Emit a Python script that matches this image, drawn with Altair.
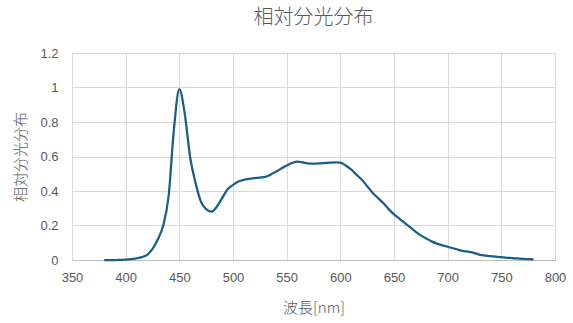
import altair as alt
import pandas as pd

wavelength = list(range(380, 785, 5))
intensity = [
    0.0, 0.0, 0.0, 0.001, 0.002, 0.005, 0.01, 0.017, 0.03, 0.065,
    0.12, 0.2, 0.37, 0.76, 0.99, 0.85, 0.6, 0.45, 0.34, 0.295,
    0.28, 0.31, 0.36, 0.41, 0.435, 0.455, 0.465, 0.47, 0.474, 0.478,
    0.482, 0.495, 0.512, 0.53, 0.548, 0.562, 0.57, 0.566, 0.56, 0.559,
    0.56, 0.562, 0.564, 0.566, 0.565, 0.548, 0.525, 0.495, 0.465, 0.428,
    0.39, 0.36, 0.33, 0.295, 0.265, 0.24, 0.215, 0.19, 0.165, 0.143,
    0.125, 0.108, 0.095, 0.085, 0.077, 0.068, 0.059, 0.052, 0.047, 0.04,
    0.03, 0.026, 0.023, 0.019, 0.016, 0.013, 0.011, 0.009, 0.007, 0.005,
    0.004,
]
x_ticks = list(range(350, 850, 50))
y_ticks = [0, 0.2, 0.4, 0.6, 0.8, 1.0, 1.2]

df = pd.DataFrame({"wl": wavelength, "v": intensity})

FONT = "Noto Sans CJK JP"
LFONT = "Liberation Sans"
GRAY = "#595959"

chart = alt.Chart(df).mark_line(
    color="#1a5f85", strokeWidth=2.25, interpolate="monotone"
).encode(
    x=alt.X("wl:Q", scale=alt.Scale(domain=[350, 800], nice=False, zero=False),
            axis=alt.Axis(values=x_ticks, title="波長[nm]", format="d",
                          grid=True, gridColor="#d9d9d9", domainColor="#bfbfbf",
                          ticks=False, labelPadding=11, labelFontSize=13,
                          labelFlush=False,
                          labelColor=GRAY, labelFont=LFONT,
                          titleFont=FONT, titleFontSize=15, titleFontWeight=300,
                          titleColor=GRAY, titleY=47, titleBaseline="middle")),
    y=alt.Y("v:Q", scale=alt.Scale(domain=[0, 1.2], nice=False),
            axis=alt.Axis(values=y_ticks, title="相対分光分布",
                          labelExpr="datum.value == 0 ? '0' : (datum.value == 1 ? '1' : format(datum.value, '.1f'))",
                          grid=True, gridColor="#d9d9d9", domain=False,
                          ticks=False, labelPadding=14, labelFontSize=13,
                          labelColor=GRAY, labelFont=LFONT,
                          titleFont=FONT, titleFontSize=15, titleFontWeight=300,
                          titleColor=GRAY, titleX=-52, titleY=103.5,
                          titleAngle=270, titleAlign="center", titleBaseline="middle")),
).properties(
    width=483, height=207,
    title=alt.TitleParams("相対分光分布", font=FONT, fontSize=20, fontWeight=300,
                          color=GRAY, anchor="middle", offset=19),
    padding={"left": 72, "top": 53, "right": 18, "bottom": 63},
    autosize=alt.AutoSizeParams(type="none"),
).configure_view(stroke=None).configure(background="white")

chart.save("out.html", embed_options={"renderer": "svg", "actions": False})
